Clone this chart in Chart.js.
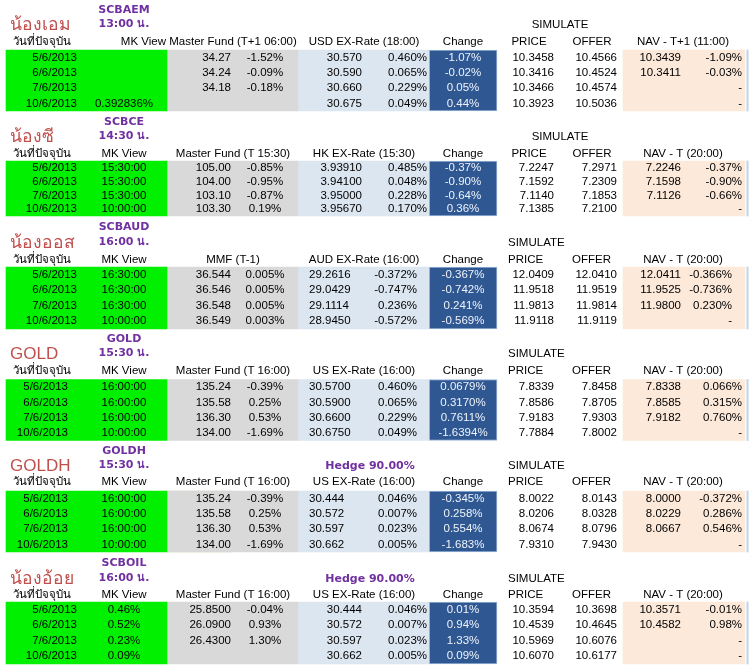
<!DOCTYPE html>
<html>
<head>
<meta charset="utf-8">
<script src="https://cdn.jsdelivr.net/npm/chart.js@4.4.0/dist/chart.umd.min.js"></script>
<style>
  html, body { margin: 0; padding: 0; background: #fff; }
  canvas { display: block; }
</style>
</head>
<body>
<canvas id="navTable" width="750" height="668"></canvas>
<script>
// 基金 / 标题
const fundNames = ['SCBAEM', 'SCBCE', 'SCBAUD', 'GOLD', 'GOLDH', 'SCBOIL'];
const nickNames = ['น้องเอม', 'น้องซี', 'น้องออส', 'GOLD', 'GOLDH', 'น้องอ้อย'];
const cutOffTimes = ['13:00 น.', '14:30 น.', '16:00 น.', '15:30 น.', '15:30 น.', '16:00 น.'];
const hedgeLabels = ['', '', '', '', 'Hedge 90.00%', 'Hedge 90.00%'];
const dateLabels = ['5/6/2013', '6/6/2013', '7/6/2013', '10/6/2013'];

// 表头
const dateHeader = 'วันที่ปัจจุบัน';
const masterHeaders = ['Master Fund (T+1 06:00)', 'Master Fund (T 15:30)', 'MMF (T-1)',
  'Master Fund (T 16:00)', 'Master Fund (T 16:00)', 'Master Fund (T 16:00)'];
const fxHeaders = ['USD EX-Rate (18:00)', 'HK EX-Rate (15:30)', 'AUD EX-Rate (16:00)',
  'US EX-Rate (16:00)', 'US EX-Rate (16:00)', 'US EX-Rate (16:00)'];
const navHeaders = ['NAV - T+1 (11:00)', 'NAV - T (20:00)', 'NAV - T (20:00)',
  'NAV - T (20:00)', 'NAV - T (20:00)', 'NAV - T (20:00)'];

// 数据
const mkView = [
  ['', '', '', '0.392836%'],
  ['15:30:00', '15:30:00', '15:30:00', '10:00:00'],
  ['16:30:00', '16:30:00', '16:30:00', '10:00:00'],
  ['16:00:00', '16:00:00', '16:00:00', '10:00:00'],
  ['16:00:00', '16:00:00', '16:00:00', '10:00:00'],
  ['0.46%', '0.52%', '0.23%', '0.09%']
];
const masterPrice = [
  ['34.27', '34.24', '34.18', ''],
  ['105.00', '104.00', '103.10', '103.30'],
  ['36.544', '36.546', '36.548', '36.549'],
  ['135.24', '135.58', '136.30', '134.00'],
  ['135.24', '135.58', '136.30', '134.00'],
  ['25.8500', '26.0900', '26.4300', '']
];
const masterChange = [
  ['-1.52%', '-0.09%', '-0.18%', ''],
  ['-0.85%', '-0.95%', '-0.87%', '0.19%'],
  ['0.005%', '0.005%', '0.005%', '0.003%'],
  ['-0.39%', '0.25%', '0.53%', '-1.69%'],
  ['-0.39%', '0.25%', '0.53%', '-1.69%'],
  ['-0.04%', '0.93%', '1.30%', '']
];
const fxRate = [
  ['30.570', '30.590', '30.660', '30.675'],
  ['3.93910', '3.94100', '3.95000', '3.95670'],
  ['29.2616', '29.0429', '29.1114', '28.9450'],
  ['30.5700', '30.5900', '30.6600', '30.6750'],
  ['30.444', '30.572', '30.597', '30.662'],
  ['30.444', '30.572', '30.597', '30.662']
];
const fxChange = [
  ['0.460%', '0.065%', '0.229%', '0.049%'],
  ['0.485%', '0.048%', '0.228%', '0.170%'],
  ['-0.372%', '-0.747%', '0.236%', '-0.572%'],
  ['0.460%', '0.065%', '0.229%', '0.049%'],
  ['0.046%', '0.007%', '0.023%', '0.005%'],
  ['0.046%', '0.007%', '0.023%', '0.005%']
];
const changeVals = [
  ['-1.07%', '-0.02%', '0.05%', '0.44%'],
  ['-0.37%', '-0.90%', '-0.64%', '0.36%'],
  ['-0.367%', '-0.742%', '0.241%', '-0.569%'],
  ['0.0679%', '0.3170%', '0.7611%', '-1.6394%'],
  ['-0.345%', '0.258%', '0.554%', '-1.683%'],
  ['0.01%', '0.94%', '1.33%', '0.09%']
];
const simPrice = [
  ['10.3458', '10.3416', '10.3466', '10.3923'],
  ['7.2247', '7.1592', '7.1140', '7.1385'],
  ['12.0409', '11.9518', '11.9813', '11.9118'],
  ['7.8339', '7.8586', '7.9183', '7.7884'],
  ['8.0022', '8.0206', '8.0674', '7.9310'],
  ['10.3594', '10.4539', '10.5969', '10.6070']
];
const simOffer = [
  ['10.4566', '10.4524', '10.4574', '10.5036'],
  ['7.2971', '7.2309', '7.1853', '7.2100'],
  ['12.0410', '11.9519', '11.9814', '11.9119'],
  ['7.8458', '7.8705', '7.9303', '7.8002'],
  ['8.0143', '8.0328', '8.0796', '7.9430'],
  ['10.3698', '10.4645', '10.6076', '10.6177']
];
const navValue = [
  ['10.3439', '10.3411', '', ''],
  ['7.2246', '7.1598', '7.1126', ''],
  ['12.0411', '11.9525', '11.9800', ''],
  ['7.8338', '7.8585', '7.9182', ''],
  ['8.0000', '8.0229', '8.0667', ''],
  ['10.3571', '10.4582', '', '']
];
const navChange = [
  ['-1.09%', '-0.03%', '-', '-'],
  ['-0.37%', '-0.90%', '-0.66%', '-'],
  ['-0.366%', '-0.736%', '0.230%', '-'],
  ['0.066%', '0.315%', '0.760%', '-'],
  ['-0.372%', '0.286%', '0.546%', '-'],
  ['-0.01%', '0.98%', '-', '-']
];

// 版面 (像素单位, 通过坐标轴换算)
const blockTop = [50, 161, 267, 379.5, 491, 602];
const rowHeight = [15.25, 13.75, 15.5, 15.25, 15.25, 15.5];
const titleY = [10, 122, 227, 339, 451, 563];
const subY = [24, 136, 242, 353, 465, 578];
const headY = [42, 154, 260, 371, 482, 595];
const dateRight = [77, 77, 77, 68, 68, 77];
const fxRateAlign = ['right', 'right', 'left', 'left', 'left', 'right'];
const fxRateX = [362, 362, 309, 309, 309, 362];
const fxChangeX = [427, 427, 417, 417, 417, 427];
const navChangeX = [742, 742, 732, 742, 742, 742];

const bodyFont = '11.5px "Liberation Sans", "Noto Sans", sans-serif';
const purpleFont = 'bold 11px "DejaVu Sans", sans-serif';
const purple = '#7030a0';
const titleRed = '#c0504d';

// 背景色块 (每块一根浮动柱)
function regionData(centerX, blocks) {
  return blocks.map(b => ({ x: centerX, y: [blockTop[b], blockTop[b] + 4 * rowHeight[b]] }));
}
const allBlocks = [0, 1, 2, 3, 4, 5];
function regionSet(label, centerX, width, color, blocks, border) {
  return {
    label: label,
    data: regionData(centerX, blocks || allBlocks),
    backgroundColor: color,
    borderColor: border || color,
    borderWidth: border ? 1 : 0,
    borderSkipped: false,
    barThickness: width,
    grouped: false
  };
}

const tableText = {
  id: 'tableText',
  afterDatasetsDraw(chart) {
    const ctx = chart.ctx;
    const sx = chart.scales.x, sy = chart.scales.y;
    const put = (txt, vx, vy, align, font, color) => {
      if (!txt) return;
      ctx.save();
      ctx.font = font || bodyFont;
      ctx.fillStyle = color || '#000';
      ctx.textAlign = align || 'left';
      ctx.textBaseline = 'middle';
      ctx.fillText(txt, sx.getPixelForValue(vx), sy.getPixelForValue(vy));
      ctx.restore();
    };
    fundNames.forEach((name, b) => {
      // 标题
      const bigFont = (nickNames[b].indexOf('GOLD') === 0 ? '17px' : '17.5px') + ' "Liberation Sans", "Noto Sans", sans-serif';
      put(nickNames[b], 10, subY[b] + 1, 'left', bigFont, titleRed);
      put(name, 124, titleY[b], 'center', purpleFont, purple);
      put(cutOffTimes[b], 124, subY[b], 'center', purpleFont, purple);
      put(hedgeLabels[b], 370, subY[b] + 1, 'center', purpleFont, purple);
      if (b < 2) {
        put('SIMULATE', 560, subY[b] + 1, 'center');
      } else {
        put('SIMULATE', 508, subY[b] + 1, 'left');
      }
      // 表头
      const hy = headY[b];
      put(dateHeader, 42, hy, 'center');
      if (b === 0) put('MK View', 166, hy, 'right');
      else put('MK View', 124, hy, 'center');
      put(masterHeaders[b], 233, hy, 'center');
      put(fxHeaders[b], 364, hy, 'center');
      put('Change', 463, hy, 'center');
      if (b < 2) {
        put('PRICE', 529, hy, 'center');
        put('OFFER', 592, hy, 'center');
      } else {
        put('PRICE', 508, hy, 'left');
        put('OFFER', 572, hy, 'left');
      }
      put(navHeaders[b], 683, hy, 'center');
      // 数据行
      for (let r = 0; r < 4; r++) {
        const y = blockTop[b] + (r + 0.5) * rowHeight[b];
        put(dateLabels[r], dateRight[b], y, 'right');
        put(mkView[b][r], 124, y, 'center');
        put(masterPrice[b][r], 231, y, 'right');
        put(masterChange[b][r], 265, y, 'center');
        put(fxRate[b][r], fxRateX[b], y, fxRateAlign[b]);
        put(fxChange[b][r], fxChangeX[b], y, 'right');
        put(changeVals[b][r], 463, y, 'center', bodyFont, '#eef2fa');
        put(simPrice[b][r], 554, y, 'right');
        put(simOffer[b][r], 617, y, 'right');
        put(navValue[b][r], 681, y, 'right');
        put(navChange[b][r], navChangeX[b], y, 'right');
      }
    });
  }
};

const ctxTable = document.getElementById('navTable').getContext('2d');
new Chart(ctxTable, {
  type: 'bar',
  data: {
    datasets: [
      regionSet('green', 86.5, 161, '#00f000'),
      regionSet('master', 232.5, 131, '#d9d9d9'),
      regionSet('hedgeMaster', 199.5, 65, '#c4d79b', [4]),
      regionSet('fx', 363.5, 131, '#dce6f1'),
      regionSet('change', 463, 68, '#2f5893', null, '#9bb7d9'),
      regionSet('nav', 684, 122, '#fde9d9'),
      regionSet('edge', 747.5, 1.5, '#c5d5e8')
    ]
  },
  options: {
    responsive: false,
    animation: false,
    layout: { padding: 0 },
    plugins: { legend: { display: false }, tooltip: { enabled: false } },
    scales: {
      x: { type: 'linear', min: 0, max: 750, display: false, offset: false },
      y: { type: 'linear', min: 0, max: 668, reverse: true, display: false }
    }
  },
  plugins: [tableText]
});
</script>
</body>
</html>
